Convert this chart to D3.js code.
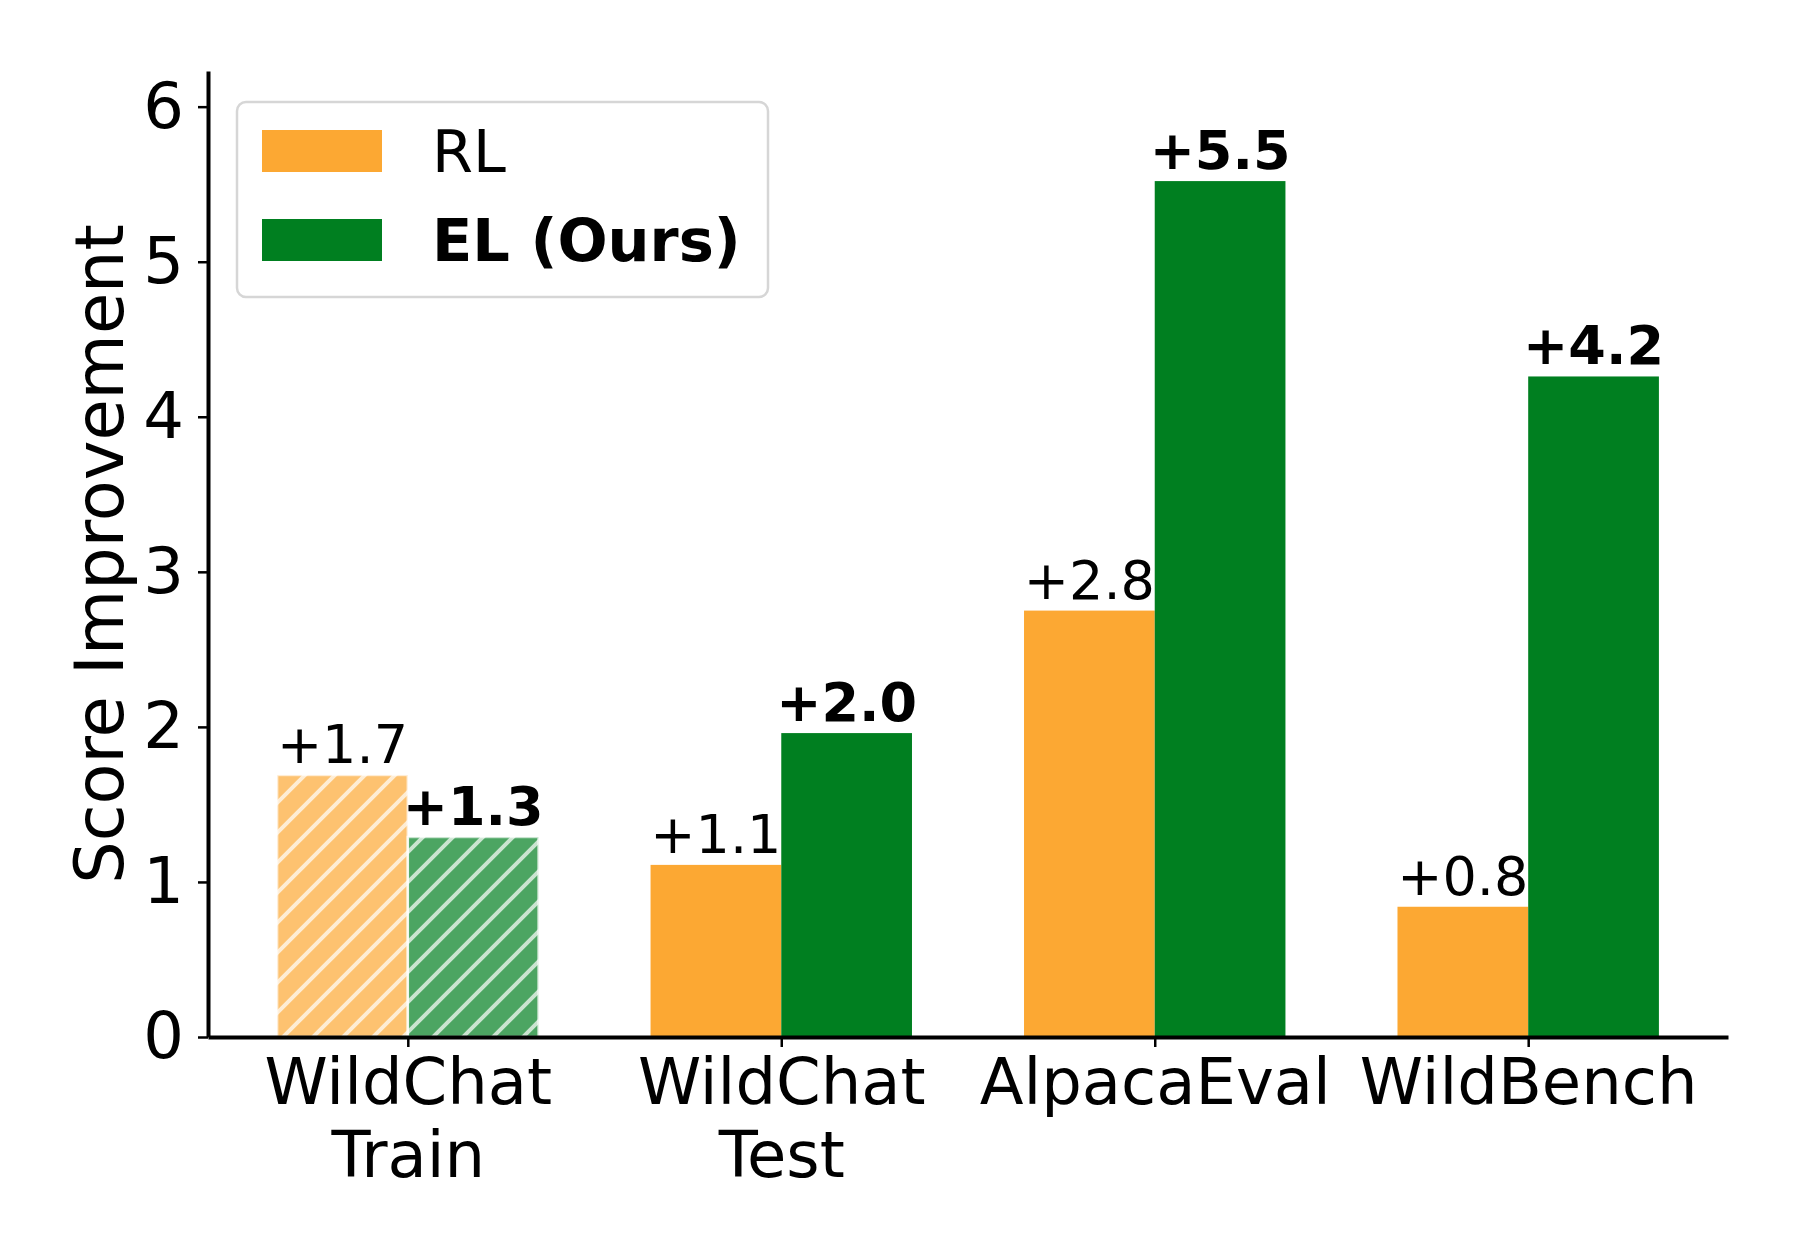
<!DOCTYPE html>
<html>
<head>
<meta charset="utf-8">
<script src="https://cdn.jsdelivr.net/npm/d3@7"></script>
<style>
  body { margin: 0; background: #fff; }
  svg { display: block; font-family: "DejaVu Sans", sans-serif; }
</style>
</head>
<body>
<div id="chart"></div>
<script>
// data
const categories = ["WildChat\nTrain", "WildChat\nTest", "AlpacaEval", "WildBench"];
const series = ["RL", "EL (Ours)"];
const rlValues = [1.69, 1.11, 2.75, 0.84];
const elValues = [1.29, 1.96, 5.52, 4.26];
const rlLabels = ["+1.7", "+1.1", "+2.8", "+0.8"];
const elLabels = ["+1.3", "+2.0", "+5.5", "+4.2"];
const hatched = [true, false, false, false];
const yTicks = [0, 1, 2, 3, 4, 5, 6];

const colours = ["#fca833", "#007f20"];

const W = 1800,
  H = 1260;
const plotLeft = 208,
  plotRight = 1728,
  plotTop = 71,
  plotBottom = 1037;
const barW = 0.35;

const x = d3.scaleLinear().domain([-0.535, 3.535]).range([plotLeft, plotRight]);
const y = d3.scaleLinear().domain([0, 6.23]).range([plotBottom, plotTop]);

const svg = d3
  .select("#chart")
  .append("svg")
  .attr("width", W)
  .attr("height", H);

svg.append("rect").attr("width", W).attr("height", H).attr("fill", "#fff");

// hatch pattern: white diagonal lines only, laid over the faded fill
const defs = svg.append("defs");
const pat = defs
  .append("pattern")
  .attr("id", "hatch")
  .attr("patternUnits", "userSpaceOnUse")
  .attr("width", 30)
  .attr("height", 30);
pat
  .append("path")
  .attr("d", "M0,30 L30,0 M-7.5,7.5 L7.5,-7.5 M22.5,37.5 L37.5,22.5")
  .attr("stroke", "#fff")
  .attr("stroke-opacity", 0.7)
  .attr("stroke-width", 4);

/*******************************************************
 *                       Bars                          *
 *******************************************************/

const rows = [];
categories.forEach((c, i) => {
  rows.push({ i: i, s: 0, v: rlValues[i], label: rlLabels[i], off: -barW / 2 });
  rows.push({ i: i, s: 1, v: elValues[i], label: elLabels[i], off: barW / 2 });
});

const bw = x(barW) - x(0);

const bars = svg.append("g");
bars
  .selectAll("rect.bar")
  .data(rows)
  .enter()
  .append("rect")
  .attr("class", "bar")
  .attr("x", (d) => x(d.i + d.off) - bw / 2)
  .attr("y", (d) => y(d.v))
  .attr("width", bw)
  .attr("height", (d) => y(0) - y(d.v))
  .attr("fill", (d) => colours[d.s])
  .attr("fill-opacity", (d) => (hatched[d.i] ? 0.7 : 1));

bars
  .selectAll("rect.hatch")
  .data(rows.filter((d) => hatched[d.i]))
  .enter()
  .append("rect")
  .attr("class", "hatch")
  .attr("x", (d) => x(d.i + d.off) - bw / 2)
  .attr("y", (d) => y(d.v))
  .attr("width", bw)
  .attr("height", (d) => y(0) - y(d.v))
  .attr("fill", "url(#hatch)")
  .attr("stroke", "#fff")
  .attr("stroke-opacity", 0.7)
  .attr("stroke-width", 2.5);

bars
  .selectAll("text.val")
  .data(rows)
  .enter()
  .append("text")
  .attr("class", "val")
  .attr("x", (d) => x(d.i + d.off))
  .attr("y", (d) => y(d.v) - 12)
  .attr("text-anchor", "middle")
  .attr("font-size", 54)
  .attr("font-weight", (d) => (d.s === 1 ? "bold" : "normal"))
  .attr("fill", "#000")
  .text((d) => d.label);

/*******************************************************
 *                       Axes                          *
 *******************************************************/

const yAxis = svg
  .append("g")
  .attr("transform", "translate(" + plotLeft + ",0)")
  .call(
    d3
      .axisLeft(y)
      .tickValues(yTicks)
      .tickFormat(d3.format("d"))
      .tickSize(10)
      .tickSizeOuter(0)
      .tickPadding(14)
  );
yAxis.select(".domain").attr("stroke-width", 4);
yAxis.selectAll(".tick line").attr("stroke-width", 2.5);
yAxis.selectAll(".tick text").attr("font-size", 64).attr("fill", "#000").attr("font-family", "DejaVu Sans");

const xAxis = svg
  .append("g")
  .attr("transform", "translate(0," + plotBottom + ")")
  .call(
    d3
      .axisBottom(x)
      .tickValues(d3.range(categories.length))
      .tickSize(10)
      .tickSizeOuter(0)
      .tickFormat(() => "")
  );
xAxis.select(".domain").attr("stroke-width", 4);
xAxis.selectAll(".tick line").attr("stroke-width", 2.5);
xAxis.selectAll(".tick text").remove();

xAxis
  .selectAll(".tick")
  .append("text")
  .attr("text-anchor", "middle")
  .attr("font-size", 64)
  .attr("font-family", "DejaVu Sans")
  .attr("fill", "#000")
  .each(function (d) {
    const lines = categories[d].split("\n");
    const t = d3.select(this);
    lines.forEach((line, k) => {
      t.append("tspan")
        .attr("x", 0)
        .attr("y", 67 + k * 73)
        .text(line);
    });
  });

svg
  .append("text")
  .attr("transform", "translate(123," + (plotTop + plotBottom) / 2 + ") rotate(-90)")
  .attr("text-anchor", "middle")
  .attr("font-size", 67)
  .attr("fill", "#000")
  .text("Score Improvement");

/*******************************************************
 *                      Legend                         *
 *******************************************************/

const legend = svg.append("g");
legend
  .append("rect")
  .attr("x", 237)
  .attr("y", 102)
  .attr("width", 531)
  .attr("height", 195)
  .attr("rx", 9)
  .attr("fill", "#fff")
  .attr("fill-opacity", 0.8)
  .attr("stroke", "#d6d6d6")
  .attr("stroke-width", 2.5);

const legendG = legend
  .selectAll(".legend")
  .data(series)
  .enter()
  .append("g")
  .attr("transform", (d, i) => "translate(262," + (151 + i * 89) + ")");

legendG
  .append("rect")
  .attr("y", -21)
  .attr("width", 120)
  .attr("height", 42)
  .attr("fill", (d, i) => colours[i]);

legendG
  .append("text")
  .attr("x", 170)
  .attr("dy", "0.36em")
  .attr("font-size", 59)
  .attr("font-weight", (d, i) => (i === 1 ? "bold" : "normal"))
  .attr("fill", "#000")
  .text((d) => d);
</script>
</body>
</html>
